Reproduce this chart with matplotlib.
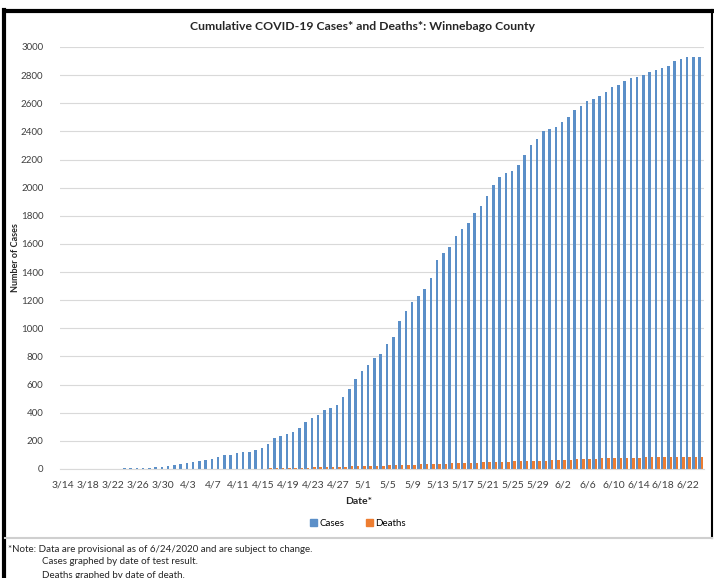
import numpy as np
import pandas as pd
import matplotlib
matplotlib.use("Agg")
import matplotlib.pyplot as plt
from matplotlib.patches import Patch
from matplotlib.lines import Line2D

plt.rcParams["font.family"] = ["Lato", "DejaVu Sans"]

# one category per day, 3/14/2020 through 6/24/2020
dates = pd.date_range("2020-03-14", "2020-06-24", freq="D")
date_labels = [f"{d.month}/{d.day}" for d in dates]

# cumulative cases
cases = [
    0, 0, 0, 0, 0, 0, 0, 0, 0, 0,
    6, 6, 7, 7, 8, 12, 12, 24, 31, 38,
    45, 50, 59, 64, 69, 83, 97, 102, 116, 123,
    124, 137, 149, 178, 218, 232, 249, 263, 294, 332,
    365, 382, 419, 436, 455, 514, 571, 640, 697, 737,
    787, 815, 886, 936, 1054, 1123, 1185, 1232, 1277, 1360,
    1484, 1533, 1581, 1659, 1706, 1751, 1818, 1867, 1943, 2021,
    2078, 2107, 2118, 2161, 2232, 2303, 2348, 2403, 2415, 2429,
    2467, 2505, 2550, 2583, 2618, 2630, 2652, 2680, 2716, 2732,
    2761, 2782, 2784, 2799, 2825, 2834, 2851, 2867, 2900, 2915,
    2929, 2929, 2929,
]

# cumulative deaths
deaths = [
    0, 0, 0, 0, 0, 0, 0, 0, 0, 0,
    0, 0, 0, 0, 0, 0, 0, 0, 0, 0,
    0, 0, 0, 0, 0, 0, 0, 0, 0, 0,
    2, 3, 3, 4, 5, 6, 7, 8, 9, 10,
    11, 12, 13, 14, 15, 16, 18, 19, 20, 21,
    22, 24, 26, 27, 28, 30, 31, 32, 34, 35,
    37, 38, 40, 41, 43, 44, 46, 47, 48, 50,
    51, 52, 54, 55, 56, 57, 58, 60, 62, 63,
    65, 67, 68, 70, 72, 74, 75, 76, 77, 78,
    79, 80, 81, 82, 83, 83, 84, 85, 86, 86,
    87, 87, 87,
]

y_ticks = list(range(0, 3001, 200))

case_color = "#5b8fc8"
death_color = "#ed7d31"

fig = plt.figure(figsize=(7.14, 5.78), dpi=100)
ax = fig.add_axes([60 / 714, 1 - 469 / 578, 644 / 714, 422 / 578])

x = np.arange(len(dates))
ax.bar(x - 0.2, cases, width=0.4, color=case_color, zorder=2)
ax.bar(x + 0.2, deaths, width=0.4, color=death_color, zorder=2)

ax.set_xlim(-0.5, len(dates) - 0.5)
ax.set_ylim(0, 3000)
ax.set_yticks(y_ticks)
ax.set_yticklabels([str(v) for v in y_ticks], fontsize=7, color="#404040")
ax.set_xticks(x[::4])
ax.set_xticklabels(date_labels[::4], fontsize=7.5, color="#404040")
ax.tick_params(axis="y", length=0, pad=12)
ax.tick_params(axis="x", length=0, pad=8)
ax.grid(axis="y", color="#d9d9d9", linewidth=0.8, zorder=0)
for s in ["top", "right", "left"]:
    ax.spines[s].set_visible(False)
ax.spines["bottom"].set_color("#d9d9d9")

# titles and labels in figure pixels
fig.text(363 / 714, 1 - 27 / 578, "Cumulative COVID-19 Cases* and Deaths*: Winnebago County",
         ha="center", va="center", fontsize=8.8, fontweight="bold", color="#262626")
fig.text(15 / 714, 1 - 258 / 578, "Number of Cases", rotation=90, ha="center",
         va="center", fontsize=6.5, fontweight="bold", color="#262626")
fig.text(359 / 714, 1 - 502 / 578, "Date*", ha="center", va="center",
         fontsize=7.5, fontweight="bold", color="#262626")

handles = [Patch(color=case_color), Patch(color=death_color)]
fig.legend(handles, ["Cases", "Deaths"], loc="center", bbox_to_anchor=(358 / 714, 1 - 523 / 578),
           ncol=2, frameon=False, fontsize=7, handlelength=0.7, handleheight=0.7,
           handletextpad=0.3, columnspacing=2.2)

# border round the chart and the note panel below
fig.add_artist(Line2D([5 / 714, 712 / 714], [1 - 11 / 578, 1 - 11 / 578], color="black", linewidth=3))
fig.add_artist(Line2D([4 / 714, 4 / 714], [0, 1 - 10 / 578], color="black", linewidth=3))
fig.add_artist(Line2D([712 / 714, 712 / 714], [1 - 538 / 578, 1 - 10 / 578], color="black", linewidth=1.5))
fig.add_artist(Line2D([5 / 714, 712 / 714], [1 - 538 / 578, 1 - 538 / 578], color="#cfcfcf", linewidth=1.5))

fig.text(8 / 714, 1 - 549 / 578, "*Note: Data are provisional as of 6/24/2020 and are subject to change.",
         ha="left", va="center", fontsize=7, color="#262626")
fig.text(42 / 714, 1 - 562 / 578, "Cases graphed by date of test result.",
         ha="left", va="center", fontsize=7, color="#262626")
fig.text(42 / 714, 1 - 575 / 578, "Deaths graphed by date of death.",
         ha="left", va="center", fontsize=7, color="#262626")

fig.savefig("out.png", dpi=100)
